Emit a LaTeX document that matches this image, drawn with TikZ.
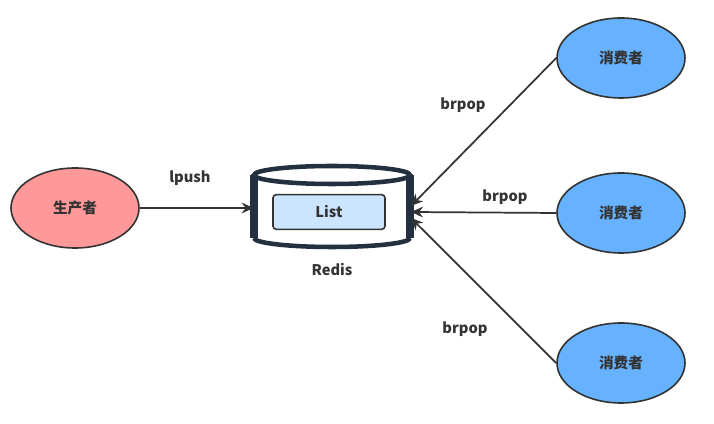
\documentclass[tikz,border=0pt]{standalone}
\usepackage{fontspec}
\newfontfamily\cjk{Noto Sans CJK SC}
\usetikzlibrary{arrows.meta,shapes.geometric}
\definecolor{linecol}{HTML}{333333}
\definecolor{navy}{HTML}{23303F}
\definecolor{prodfill}{HTML}{FF9999}
\definecolor{consfill}{HTML}{66B2FF}
\definecolor{listfill}{HTML}{CCE5FF}
\begin{document}
\begin{tikzpicture}[x=0.75pt,y=0.75pt,font=\cjk\bfseries\fontsize{11}{13}\selectfont,text=linecol,>={Stealth[length=9pt,width=8pt]},
 role/.style={draw=linecol,line width=1.2pt,ellipse,minimum width=96pt,minimum height=60pt},
 conn/.style={draw=linecol,line width=1.3pt,->},
 lbl/.style={text=linecol}]
\useasboundingbox (0,0) rectangle (714,424);
\node[role,fill=prodfill] (prod) at (75,216) {生产者};
\node[role,fill=consfill] (c1) at (621,366) {消费者};
\node[role,fill=consfill] (c2) at (621,211) {消费者};
\node[role,fill=consfill] (c3) at (621,61) {消费者};
% redis cylinder
\node[minimum width=117pt,minimum height=57pt] (redis) at (332,216) {};
\fill[white] (254,249) -- (254,186) arc[start angle=180,end angle=360,x radius=58.5pt,y radius=6.75pt] -- (410,249) -- cycle;
\draw[navy,line width=3.4pt] (254,186) arc[start angle=180,end angle=360,x radius=58.5pt,y radius=6.75pt];
\draw[navy,line width=6pt] (254,249) -- (254,186) (410,249) -- (410,186);
\draw[navy,line width=3.4pt,fill=white] (332,249) ellipse[x radius=58.5pt,y radius=6.75pt];
\node[draw=linecol,line width=1.2pt,fill=listfill,rounded corners=2.5pt,minimum width=84pt,minimum height=26pt] (list) at (329,212) {List};
\node[lbl] (redislbl) at (332,154) {Redis};
\coordinate (in1) at (411,218);
\coordinate (in2) at (411,212);
\coordinate (in3) at (411,206);
\draw[conn] (prod.east) -- (redis.west);
\draw[conn] (c1.west) -- (in1);
\draw[conn] (c2.west) -- (in2);
\draw[conn] (c3.west) -- (in3);
\node[lbl] (push) at (190,246) {lpush};
\node[lbl] (pop1) at (463,319) {brpop};
\node[lbl] (pop2) at (505,227) {brpop};
\node[lbl] (pop3) at (465,95) {brpop};
\end{tikzpicture}
\end{document}
